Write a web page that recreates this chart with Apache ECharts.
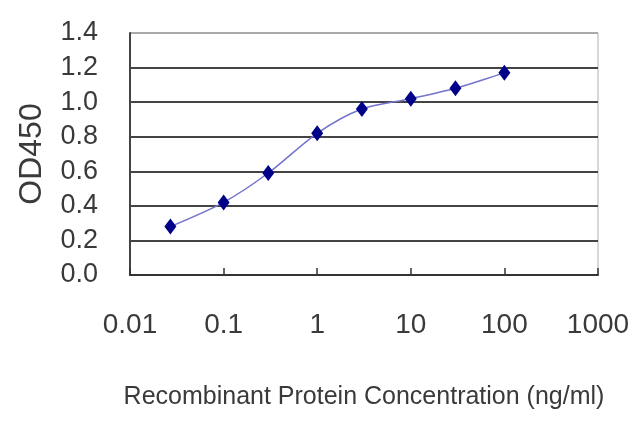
<!DOCTYPE html>
<html>
<head>
<meta charset="utf-8">
<script src="https://cdn.jsdelivr.net/npm/echarts@6/dist/echarts.min.js"></script>
<style>
  html, body { margin: 0; padding: 0; background: #fff; }
  #chart { width: 640px; height: 427px; }
</style>
</head>
<body>
<div id="chart"></div>
<script>
    // concentrations (ng/ml) and OD450 readings
    var concentration = [0.027, 0.1, 0.3, 1, 3, 10, 30, 100];
    var od450 = [0.28, 0.42, 0.59, 0.82, 0.96, 1.02, 1.08, 1.17];
    var xTickLabels = ['0.01', '0.1', '1', '10', '100', '1000'];
    var yTickLabels = ['0.0', '0.2', '0.4', '0.6', '0.8', '1.0', '1.2', '1.4'];

    var font = "'Liberation Sans', Arial, sans-serif";

    var points = [];
    for (var i = 0; i < concentration.length; i++) {
        points.push([concentration[i], od450[i]]);
    }

    var chart = echarts.init(document.getElementById('chart'));
    var options = {
        animation: false,
        backgroundColor: '#fff',
        grid: {
            left: 130,
            right: 42,
            top: 33,
            bottom: 152,
            outerBoundsMode: 'none',
            containLabel: false,
            show: true,
            borderColor: '#b0b0b0',
            borderWidth: 1
        },
        xAxis: {
            type: 'log',
            logBase: 10,
            min: 0.01,
            max: 1000,
            name: 'Recombinant Protein Concentration (ng/ml)',
            nameLocation: 'middle',
            nameGap: 110,
            nameTextStyle: {fontFamily: font, fontSize: 25, color: '#3a3a3a'},
            axisLine: {lineStyle: {color: '#333', width: 2}},
            axisTick: {inside: true, length: 7, lineStyle: {color: '#333', width: 1.5}},
            axisLabel: {
                fontFamily: font,
                fontSize: 28,
                color: '#3a3a3a',
                margin: 36,
                formatter: function (v, idx) {
                    return xTickLabels[idx] !== undefined ? xTickLabels[idx] : '';
                }
            },
            splitLine: {show: false}
        },
        yAxis: {
            type: 'value',
            min: 0,
            max: 1.4,
            interval: 0.2,
            name: 'OD450',
            nameLocation: 'middle',
            nameGap: 82,
            nameRotate: 90,
            nameTextStyle: {fontFamily: font, fontSize: 32, color: '#3a3a3a'},
            axisLine: {show: true, lineStyle: {color: '#444', width: 2}},
            axisTick: {show: false},
            axisLabel: {
                fontFamily: font,
                fontSize: 27,
                color: '#3a3a3a',
                margin: 32,
                formatter: function (v, idx) {
                    return yTickLabels[idx] !== undefined ? yTickLabels[idx] : '';
                }
            },
            splitLine: {
                show: true,
                lineStyle: {
                    color: ['#444', '#444', '#444', '#444', '#444', '#444', '#444', '#aaa'],
                    width: 2
                }
            }
        },
        series: [
            {
                type: 'line',
                data: points,
                smooth: 0.3,
                symbol: 'diamond',
                symbolSize: [12, 16],
                lineStyle: {color: '#7474cc', width: 1.5},
                itemStyle: {color: '#000088'}
            }
        ]
    };
    chart.setOption(options, true);
</script>
</body>
</html>
